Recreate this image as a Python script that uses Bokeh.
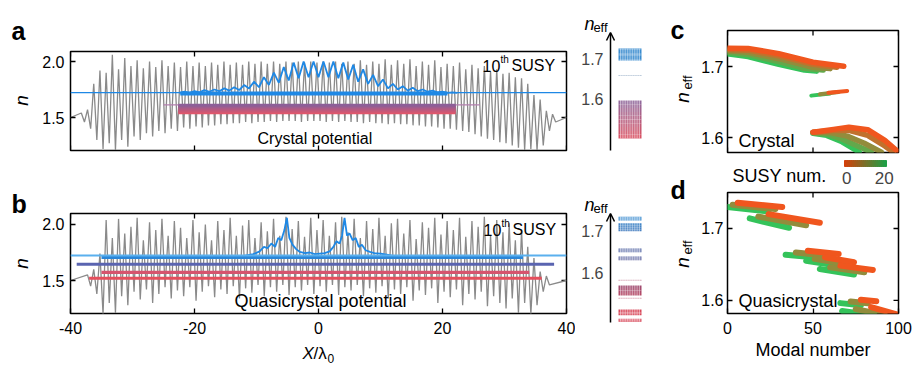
import numpy as np
from bokeh.plotting import figure
from bokeh.layouts import row, column
from bokeh.models import (Range1d, FixedTicker, Label, Arrow, OpenHead,
                          PrintfTickFormatter, Span)
from bokeh.embed import file_html
from bokeh.resources import INLINE

FONT = "Liberation Sans"

# ======================= DATA =======================
# (a) crystal potential: spike maxima / minima of n at X/lambda0 = -38..38
pot_a_x = list(range(-38, 39))
pot_a_hi = [1.54, 1.57, 1.80, 1.92, 1.90, 2.06, 1.93, 2.03, 1.96, 2.01,
            1.94, 2.00, 1.95, 2.01, 1.96, 1.99, 1.95, 2.00, 1.96, 1.99,
            1.96, 1.99, 1.97, 2.00, 1.97, 1.99, 1.97, 2.00, 1.98, 2.00,
            1.98, 2.00, 1.98, 2.00, 1.99, 2.00, 1.99, 2.00, 1.99, 2.00,
            1.99, 2.00, 1.98, 2.00, 1.98, 2.01, 1.97, 2.00, 1.98, 2.02,
            1.97, 2.01, 1.98, 2.02, 1.96, 2.00, 1.97, 2.01, 1.95, 1.98,
            1.96, 1.99, 1.93, 1.97, 1.94, 1.96, 1.91, 1.93, 1.89, 1.90,
            1.86, 1.85, 1.80, 1.70, 1.66, 1.56, 1.53]
pot_a_lo = [1.46, 1.40, 1.30, 1.22, 1.27, 1.21, 1.30, 1.24, 1.33, 1.30,
            1.36, 1.33, 1.38, 1.36, 1.40, 1.38, 1.41, 1.40, 1.42, 1.41,
            1.43, 1.43, 1.44, 1.44, 1.45, 1.45, 1.46, 1.45, 1.46, 1.46,
            1.47, 1.46, 1.47, 1.47, 1.47, 1.46, 1.47, 1.47, 1.47, 1.46,
            1.47, 1.46, 1.47, 1.46, 1.46, 1.45, 1.46, 1.45, 1.45, 1.44,
            1.45, 1.44, 1.44, 1.43, 1.43, 1.42, 1.42, 1.41, 1.40, 1.40,
            1.39, 1.38, 1.37, 1.35, 1.33, 1.31, 1.30, 1.28, 1.27, 1.25,
            1.23, 1.21, 1.22, 1.21, 1.25, 1.38, 1.46]

# (a) 10th SUSY potential (blue) and level lines
blue_a_x = [-22.4, -21.6, -20.8, -20.0, -19.2, -18.4, -17.6, -16.8, -16.0, -15.2,
            -14.4, -13.6, -12.8, -12.0, -11.2, -10.4, -9.6, -8.8, -8.0, -7.2,
            -6.4, -5.6, -4.8, -4.0, -3.2, -2.4, -1.6, -0.8, 0.0, 0.8,
            1.6, 2.4, 3.2, 4.0, 4.8, 5.6, 6.4, 7.2, 8.0, 8.8,
            9.6, 10.4, 11.2, 12.0, 12.8, 13.6, 14.4, 15.2, 16.0, 16.8,
            17.6, 18.4, 19.2, 20.0, 20.8, 21.6, 22.4]
blue_a_n = [1.720, 1.730, 1.720, 1.735, 1.725, 1.745, 1.730, 1.750, 1.735, 1.760,
            1.740, 1.770, 1.745, 1.790, 1.760, 1.820, 1.770, 1.860, 1.790, 1.900,
            1.810, 1.950, 1.830, 1.990, 1.850, 2.000, 1.860, 2.000, 1.860, 2.000,
            1.860, 2.000, 1.850, 1.990, 1.840, 1.970, 1.820, 1.930, 1.800, 1.880,
            1.780, 1.840, 1.760, 1.800, 1.750, 1.780, 1.740, 1.765, 1.735, 1.750,
            1.730, 1.740, 1.725, 1.730, 1.720, 1.725, 1.720]
a_thin_n = 1.722
a_blue_n, a_blue_x0, a_blue_x1 = 1.714, -22.3, 20.8
a_levels = [1.540, 1.548, 1.556, 1.564, 1.572, 1.580, 1.588, 1.596, 1.604, 1.612]
a_lev_x0, a_lev_x1 = -22.6, 22.1
a_ext_n, a_ext_x0, a_ext_x1 = 1.612, -25.0, 26.0

# (b) quasicrystal potential: spike maxima / minima at X/lambda0 = -37..37
pot_b_x = list(range(-37, 38))
pot_b_hi = [1.55, 1.60, 1.74, 2.04, 1.88, 2.05, 1.92, 1.98, 2.06, 1.86,
            2.02, 1.95, 2.05, 1.90, 2.03, 1.97, 1.88, 2.04, 1.93, 2.00,
            1.86, 2.03, 1.95, 2.06, 1.90, 1.99, 2.04, 1.88, 2.02, 1.94,
            2.05, 1.90, 2.07, 1.96, 2.03, 1.89, 2.06, 1.95, 2.04, 1.90,
            2.02, 2.07, 1.93, 2.05, 1.88, 2.03, 1.96, 2.06, 1.90, 2.01,
            2.05, 1.92, 2.04, 1.87, 2.02, 1.97, 2.06, 1.91, 2.03, 1.95,
            2.06, 1.89, 2.03, 1.98, 2.07, 1.90, 2.04, 1.93, 2.01, 1.86,
            1.95, 1.80, 1.70, 1.58, 1.54]
pot_b_lo = [1.45, 1.38, 1.20, 1.30, 1.21, 1.36, 1.28, 1.40, 1.33, 1.42,
            1.30, 1.38, 1.44, 1.34, 1.41, 1.36, 1.44, 1.32, 1.40, 1.45,
            1.35, 1.42, 1.38, 1.45, 1.34, 1.43, 1.39, 1.46, 1.36, 1.44,
            1.40, 1.46, 1.37, 1.44, 1.41, 1.46, 1.38, 1.45, 1.40, 1.46,
            1.37, 1.44, 1.41, 1.46, 1.36, 1.43, 1.39, 1.45, 1.34, 1.42,
            1.38, 1.44, 1.32, 1.41, 1.37, 1.43, 1.30, 1.40, 1.35, 1.42,
            1.28, 1.38, 1.33, 1.40, 1.27, 1.36, 1.30, 1.25, 1.34, 1.21,
            1.30, 1.20, 1.28, 1.40, 1.46]
blue_b_x = [-12.0, -10.5, -9.5, -8.8, -8.2, -7.6, -7.0, -6.5, -6.0, -5.5,
            -5.1, -4.7, -4.2, -3.6, -3.0, -2.2, -1.4, -0.6, 0.2, 1.0,
            1.8, 2.4, 2.9, 3.4, 3.8, 4.2, 4.6, 5.0, 5.5, 6.0,
            6.5, 7.0, 7.6, 8.3, 9.0, 10.0, 11.0, 12.0]
blue_b_n = [1.720, 1.735, 1.760, 1.800, 1.790, 1.830, 1.800, 1.880, 1.860, 1.950,
            2.060, 1.880, 1.820, 1.780, 1.755, 1.745, 1.750, 1.735, 1.740, 1.745,
            1.760, 1.800, 1.850, 1.830, 1.900, 2.060, 1.900, 1.920, 1.860, 1.880,
            1.800, 1.820, 1.770, 1.755, 1.745, 1.740, 1.730, 1.720]
b_thin_n = 1.723
b_lev_n = [1.707, 1.645, 1.572, 1.520]
b_lev_x0 = [-35.0, -39.0, -35.0, -37.0]
b_lev_x1 = [33.0, 38.0, 34.0, 36.0]

# insets: n_eff level groups
inset_ticks = [1.6, 1.7]
inset_a_lo = [1.695, 1.656, 1.500]
inset_a_hi = [1.725, 1.659, 1.595]
inset_b_lo = [1.724, 1.698, 1.648, 1.629, 1.580, 1.545, 1.537, 1.498, 1.483]
inset_b_hi = [1.733, 1.717, 1.657, 1.638, 1.583, 1.569, 1.540, 1.512, 1.490]

# (c) crystal: n_eff vs modal number for SUSY orders
c1_k = [0, 5, 10, 15, 20]
c1_m = [[0, 12, 30, 50, 68], [0, 12, 30, 50, 64], [0, 12, 30, 50, 60],
        [0, 12, 30, 45, 56], [0, 12, 30, 45, 52]]
c1_n = [[1.7258, 1.7255, 1.7180, 1.7060, 1.7003], [1.7240, 1.7230, 1.7150, 1.7030, 1.6990],
        [1.7220, 1.7200, 1.7110, 1.6990, 1.6970], [1.7200, 1.7170, 1.7070, 1.6975, 1.6950],
        [1.7180, 1.7140, 1.7030, 1.6950, 1.6935]]
c2_k = [0, 10, 20]
c2_m = [[59, 70], [54, 65], [49, 60]]
c2_n = [[1.6630, 1.6655], [1.6610, 1.6640], [1.6590, 1.6620]]
c3_k = [0, 5, 10, 15, 20]
c3_m = [[50, 62, 71, 82, 92, 100], [50, 62, 71, 82, 92, 97], [50, 60, 70, 80, 90],
        [50, 58, 67, 76, 84], [50, 58, 67, 77]]
c3_n = [[1.6075, 1.6115, 1.6145, 1.6110, 1.5960, 1.5795],
        [1.6073, 1.6100, 1.6100, 1.6030, 1.5880, 1.5795],
        [1.6070, 1.6070, 1.6020, 1.5920, 1.5795],
        [1.6065, 1.6050, 1.5980, 1.5880, 1.5795],
        [1.6060, 1.6030, 1.5940, 1.5795]]

# (d) quasicrystal bands, SUSY orders 0, 10, 20
d_k = [0, 10, 20]
d1_m = [[6, 32], [3, 28], [0, 24]]
d1_n = [[1.7357, 1.7300], [1.7330, 1.7270], [1.7300, 1.7237]]
d2_m = [[24, 54], [18, 46], [13, 36]]
d2_n = [[1.7200, 1.7080], [1.7165, 1.7045], [1.7140, 1.7010]]
d3_m = [[47, 65], [40, 60], [34, 55]]
d3_n = [[1.6690, 1.6645], [1.6665, 1.6618], [1.6636, 1.6590]]
d4_m = [[57, 74], [51, 69], [46, 64]]
d4_n = [[1.6600, 1.6530], [1.6578, 1.6507], [1.6553, 1.6484]]
d5_m = [[66, 85], [60, 80], [54, 74]]
d5_n = [[1.6484, 1.6424], [1.6460, 1.6392], [1.6438, 1.6360]]
d6_m = [[78, 87], [72, 82], [66, 78]]
d6_n = [[1.6009, 1.5990], [1.5986, 1.5962], [1.5963, 1.5935]]
d7_m = [[84, 99], [75, 92], [67, 86]]
d7_n = [[1.5908, 1.5806], [1.5880, 1.5800], [1.5853, 1.5793]]

cb_k = list(range(0, 21))          # SUSY number colour bar
cb_ticks = [0, 20]

x_ticks_ab = [-40, -20, 0, 20, 40]
n_ticks_ab = [1.5, 2.0]
m_ticks = [0, 50, 100]
neff_ticks = [1.6, 1.7]

# ======================= STYLE =======================
GREY = "#8a8a8a"
BLUE = "#1e88e5"
LBLUE = "#5ab0ee"
PURPLE = "#8d5f98"
RED = "#e2566a"
ORANGE = "#f0561e"
GREEN = "#34c35a"
CB_L = "#d2400a"
CB_R = "#1f9e45"


def lerp(c1, c2, t):
    a = [int(c1[i:i + 2], 16) for i in (1, 3, 5)]
    b = [int(c2[i:i + 2], 16) for i in (1, 3, 5)]
    return "#%02x%02x%02x" % tuple(int(round(a[j] + (b[j] - a[j]) * t)) for j in range(3))


def mk(w, h, spec, origin, outline=True):
    L, R, T, B, xr, yr = spec
    ox, oy = origin
    p = figure(width=w, height=h, x_range=Range1d(*xr), y_range=Range1d(*yr),
               output_backend="svg", toolbar_location=None,
               min_border_left=L - ox, min_border_right=ox + w - R,
               min_border_top=T - oy, min_border_bottom=oy + h - B)
    p.xgrid.visible = False
    p.ygrid.visible = False
    p.outline_line_color = "black" if outline else None
    p.outline_line_width = 1.5
    p.background_fill_color = "white"
    p.border_fill_color = "white"
    return p


def conf_axis(ax, ticks, fmt, standoff=6, size="16px"):
    ax.ticker = FixedTicker(ticks=ticks)
    ax.formatter = PrintfTickFormatter(format=fmt)
    ax.major_tick_in = 5
    ax.major_tick_out = 0
    ax.major_tick_line_width = 1.3
    ax.minor_tick_line_color = None
    ax.axis_line_color = None
    ax.major_label_text_font = FONT
    ax.major_label_text_font_size = size
    ax.major_label_text_color = "black"
    ax.major_label_standoff = standoff


def px2x(spec, px):
    L, R, T, B, (x0, x1), (y0, y1) = spec
    return x0 + (px - L) / (R - L) * (x1 - x0)


def py2y(spec, py):
    L, R, T, B, (x0, x1), (y0, y1) = spec
    return y0 + (B - py) / (B - T) * (y1 - y0)


def inner_ticks(p, spec, xt, yt, sides, length=5):
    L, R, T, B, (x0, x1), (y0, y1) = spec
    dx = length * (x1 - x0) / (R - L)
    dy = length * (y1 - y0) / (B - T)
    kw = dict(line_color="black", line_width=1.3)
    if "top" in sides:
        p.segment(x0=xt, x1=xt, y0=[y1] * len(xt), y1=[y1 - dy] * len(xt), **kw)
    if "bottom" in sides:
        p.segment(x0=xt, x1=xt, y0=[y0] * len(xt), y1=[y0 + dy] * len(xt), **kw)
    if "right" in sides:
        p.segment(x0=[x1] * len(yt), x1=[x1 - dx] * len(yt), y0=yt, y1=yt, **kw)


def txt(p, spec, px, py, text, size, style="normal", align="left",
        baseline="middle", angle=0.0, color="black"):
    p.add_layout(Label(x=px2x(spec, px), y=py2y(spec, py), text=text, text_font=FONT,
                       text_font_size=f"{size}px", text_font_style=style,
                       text_align=align, text_baseline=baseline,
                       angle=angle, text_color=color))


def zigzag(xs, hi, lo, x_start, x_end):
    X, Y = [x_start], [1.5]
    for x, h, l in zip(xs, hi, lo):
        X += [x - 0.25, x + 0.25]
        Y += [h, l]
    X.append(x_end)
    Y.append(1.5)
    return X, Y


def blank(p):
    p.xaxis.visible = False
    p.yaxis.visible = False


H = 366
XL = 36               # width of left label strip
XR0, XR1 = 660, 696   # right label strip

# ======================= left label strip =======================
SL = (0, XL, 0, H, (0, XL), (0, H))
fl = mk(XL, H, SL, (0, 0), outline=False)
blank(fl)
txt(fl, SL, 11, 30, "a", 25, style="bold", baseline="alphabetic")
txt(fl, SL, 11, 203, "b", 25, style="bold", baseline="alphabetic")
txt(fl, SL, 21, 100, "n", 19, style="italic", align="center", angle=np.pi / 2)
txt(fl, SL, 21, 263, "n", 19, style="italic", align="center", angle=np.pi / 2)

# ======================= PANEL a =======================
SA = (70, 566, 51, 150, (-40, 40), (1.2054, 2.0893))
fa = mk(575 - XL, 165, SA, (XL, 0))
fa.xaxis.visible = False
conf_axis(fa.yaxis[0], n_ticks_ab, "%.1f", standoff=6)
inner_ticks(fa, SA, x_ticks_ab, n_ticks_ab, ("top", "bottom", "right"))

gx, gy = zigzag(pot_a_x, pot_a_hi, pot_a_lo, SA[4][0], SA[4][1])
fa.line(gx, gy, line_color=GREY, line_width=1.3)
fa.add_layout(Span(location=a_thin_n, dimension="width", line_color=BLUE, line_width=1.2))
fa.line([a_ext_x0, a_ext_x1], [a_ext_n, a_ext_n], line_color="#b27fae", line_width=1.2)
lev_cols = [lerp(RED, PURPLE, i / (len(a_levels) - 1)) for i in range(len(a_levels))]
fa.segment(x0=[a_lev_x0] * len(a_levels), x1=[a_lev_x1] * len(a_levels),
           y0=a_levels, y1=a_levels, line_color=lev_cols, line_width=2.4)
fa.line([a_blue_x0, a_blue_x1], [a_blue_n, a_blue_n], line_color=BLUE, line_width=4)
fa.line(blue_a_x, blue_a_n, line_color=BLUE, line_width=1.8)

txt(fa, SA, 482, 65, "10", 16)
txt(fa, SA, 500, 59, "th", 10)
txt(fa, SA, 511, 65, "SUSY", 16)
txt(fa, SA, 257, 138, "Crystal potential", 16)

# ======================= PANEL b =======================
SB = (70, 566, 213, 313, (-40, 40), (1.2054, 2.0982))
fb = mk(575 - XL, 180, SB, (XL, 165))
conf_axis(fb.xaxis[0], x_ticks_ab, "%d", standoff=8)
conf_axis(fb.yaxis[0], n_ticks_ab, "%.1f", standoff=6)
inner_ticks(fb, SB, x_ticks_ab, n_ticks_ab, ("top", "right"))

gx, gy = zigzag(pot_b_x, pot_b_hi, pot_b_lo, SB[4][0], SB[4][1])
fb.line(gx, gy, line_color=GREY, line_width=1.3)
fb.add_layout(Span(location=b_thin_n, dimension="width", line_color=LBLUE, line_width=2))
b_cols = ["#2a86d8", "#5a64b0", "#d6546e", "#e54e5c"]
fb.segment(x0=b_lev_x0, x1=b_lev_x1, y0=b_lev_n, y1=b_lev_n, line_color=b_cols, line_width=3.2)
fb.line(blue_b_x, blue_b_n, line_color=BLUE, line_width=1.8)

txt(fb, SB, 483, 229, "10", 16)
txt(fb, SB, 501, 223, "th", 10)
txt(fb, SB, 512, 229, "SUSY", 16)
txt(fb, SB, 234, 300, "Quasicrystal potential", 18)

# x-axis title strip under panel b
SX = (70, 566, 345, H, (-40, 40), (0, 1))
fx = mk(575 - XL, H - 345, SX, (XL, 345), outline=False)
blank(fx)
txt(fx, SX, 302, 353, "X", 17, style="italic")
txt(fx, SX, 313, 353, "/\u03bb", 17)
txt(fx, SX, 327, 358, "0", 12)


# ======================= insets =======================
def inset(spec, origin, w, h, los, his, tops, bots, nsl, arrow, lab_y):
    p = mk(w, h, spec, origin, outline=False)
    blank(p)
    xl, xr_ = px2x(spec, 618), px2x(spec, 641)
    for lo, hi, ct, cbm in zip(los, his, tops, bots):
        edges = np.linspace(lo, hi, nsl + 1)
        cols = [lerp(cbm, ct, (i + 0.5) / nsl) for i in range(nsl)]
        p.quad(left=xl, right=xr_, bottom=edges[:-1], top=edges[1:],
               fill_color=cols, line_color=None)
    sx = np.linspace(px2x(spec, 620), px2x(spec, 639), 12)
    p.segment(x0=sx, x1=sx, y0=min(los), y1=max(his),
              line_color="white", line_width=0.9, line_alpha=0.55)
    xa = px2x(spec, 610)
    p.add_layout(Arrow(end=OpenHead(size=8, line_width=1.5, line_color="black"),
                       x_start=xa, y_start=arrow[0], x_end=xa, y_end=arrow[1],
                       line_width=1.5, line_color="black"))
    for t in inset_ticks:
        p.add_layout(Label(x=px2x(spec, 603), y=t, text="%.1f" % t, text_font=FONT,
                           text_font_size="16px", text_align="right", text_baseline="middle"))
    txt(p, spec, 589, lab_y, "n", 18, style="italic", align="center")
    txt(p, spec, 600, lab_y + 4, "eff", 13, align="center")
    return p


SIA = (575, 660, 0, 165, (0, 1), (1.6 - 67 / 400, 1.7 + 58 / 400))
fia = inset(SIA, (575, 0), 85, 165, inset_a_lo, inset_a_hi,
            ["#3a8ccf", "#9fb4cc", "#8e6a9e"], ["#3a8ccf", "#9fb4cc", "#dc5262"],
            10, (1.47, 1.765), 23)
SIB = (575, 660, 165, H, (0, 1), (1.6 - (H - 272) / 420, 1.7 + 65 / 420))
fib = inset(SIB, (575, 165), 85, H - 165, inset_b_lo, inset_b_hi,
            ["#3a8ccf", "#3f86c8", "#5a6ca8", "#5d68a4", "#d7a9b8", "#9c4a70", "#dba8b4", "#d8485a", "#d8485a"],
            ["#3a8ccf", "#4a80c0", "#5a6ca8", "#60649e", "#d7a9b8", "#b84a66", "#dba8b4", "#d8485a", "#d8485a"],
            4, (1.481, 1.7405), 204)

# ======================= right label strip =======================
SR = (XR0, XR1, 0, H, (0, XR1 - XR0), (0, H))
fr = mk(XR1 - XR0, H, SR, (XR0, 0), outline=False)
blank(fr)
txt(fr, SR, 670, 29, "c", 25, style="bold", baseline="alphabetic")
txt(fr, SR, 670, 189, "d", 25, style="bold", baseline="alphabetic")
txt(fr, SR, 682, 97, "n", 19, style="italic", align="center", angle=np.pi / 2)
txt(fr, SR, 687, 82, "eff", 13, align="center", angle=np.pi / 2)
txt(fr, SR, 682, 262, "n", 19, style="italic", align="center", angle=np.pi / 2)
txt(fr, SR, 687, 247, "eff", 13, align="center", angle=np.pi / 2)


def draw_band(p, ks, ms, ns, lw=4.5):
    order = sorted(range(len(ks)), key=lambda i: -ks[i])
    for i in order:
        col = lerp(ORANGE, GREEN, ks[i] / 20.0)
        p.line(ms[i], ns[i], line_color=col, line_width=lw, line_cap="round")


RW = 914 - XR1
# ======================= PANEL c =======================
SC = (727, 898, 30, 152, (0, 100), (1.5789, 1.7507))
fc = mk(RW, 155, SC, (XR1, 0))
fc.xaxis.visible = False
conf_axis(fc.yaxis[0], neff_ticks, "%.1f", standoff=4)
inner_ticks(fc, SC, m_ticks, neff_ticks, ("top", "bottom", "right"))
draw_band(fc, c1_k, c1_m, c1_n, lw=5.5)
draw_band(fc, c2_k, c2_m, c2_n, lw=4)
draw_band(fc, c3_k, c3_m, c3_n, lw=5.5)
txt(fc, SC, 738, 140, "Crystal", 18)

# ======================= colour bar =======================
SCB = (727, 898, 155, 189, ((727 - 846.25) / 1.875, (898 - 846.25) / 1.875), (0, 1))
fcb = mk(RW, 34, SCB, (XR1, 155), outline=False)
blank(fcb)
cb_edges = np.linspace(-1.2, 21.2, len(cb_k) + 1)
cb_cols = [lerp(CB_L, CB_R, k / 20.0) for k in cb_k]
fcb.quad(left=cb_edges[:-1], right=cb_edges[1:], bottom=py2y(SCB, 166), top=py2y(SCB, 160),
         fill_color=cb_cols, line_color=cb_cols)
for t in cb_ticks:
    fcb.add_layout(Label(x=t, y=py2y(SCB, 177), text="%d" % t, text_font=FONT,
                         text_font_size="17px", text_align="center", text_baseline="middle"))
txt(fcb, SCB, 732, 175, "SUSY num.", 18)

# ======================= PANEL d =======================
SD = (727, 898, 192, 313, (0, 100), (1.5819, 1.75))
fd = mk(RW, H - 189, SD, (XR1, 189))
conf_axis(fd.xaxis[0], m_ticks, "%d", standoff=8)
conf_axis(fd.yaxis[0], neff_ticks, "%.1f", standoff=4)
fd.xaxis[0].axis_label = "Modal number"
fd.xaxis[0].axis_label_text_font = FONT
fd.xaxis[0].axis_label_text_font_style = "normal"
fd.xaxis[0].axis_label_text_font_size = "18px"
fd.xaxis[0].axis_label_text_color = "black"
fd.xaxis[0].axis_label_standoff = 3
inner_ticks(fd, SD, m_ticks, neff_ticks, ("top", "right"))
for ms, ns in [(d1_m, d1_n), (d2_m, d2_n), (d3_m, d3_n), (d4_m, d4_n),
               (d5_m, d5_n), (d6_m, d6_n), (d7_m, d7_n)]:
    draw_band(fd, d_k, ms, ns, lw=6)
txt(fd, SD, 738, 300, "Quasicrystal", 18)

layout = row(column(fl), column(fa, fb, fx), column(fia, fib), column(fr),
             column(fc, fcb, fd))
open("out.html", "w").write(file_html(layout, INLINE))
